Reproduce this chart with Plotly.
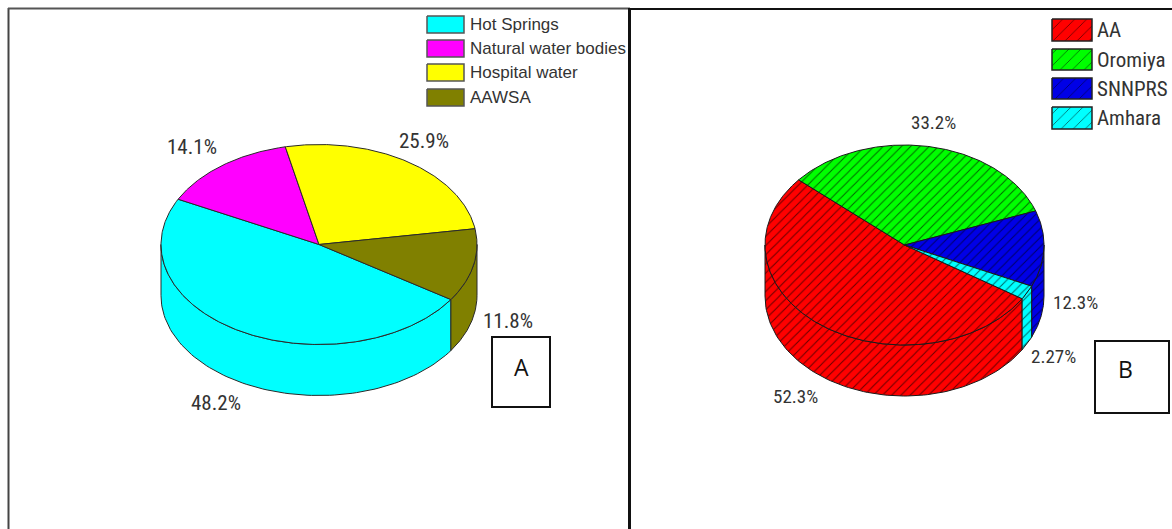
import numpy as np
import plotly.graph_objects as go

# Panel A: sources of water samples
a_labels = ["Hot Springs", "Natural water bodies", "Hospital water", "AAWSA"]
a_values = [48.2, 14.1, 25.9, 11.8]
a_text = ["48.2%", "14.1%", "25.9%", "11.8%"]

# Panel B: regions of origin
b_labels = ["AA", "Oromiya", "SNNPRS", "Amhara"]
b_values = [52.3, 33.2, 12.3, 2.27]
b_text = ["52.3%", "33.2%", "12.3%", "2.27%"]

W, H = 1172, 529
NARROW = "Liberation Sans Narrow, Roboto Condensed, Liberation Sans, sans-serif"
REGULAR = "Liberation Sans, Arial, sans-serif"
INK = "#333333"

fig = go.Figure()


def poly(xs, ys, color, edge, hatch=None, lw=1.0):
    """Add one closed, filled outline in pixel coordinates."""
    kw = {}
    if hatch:
        kw["fillpattern"] = dict(shape="/", bgcolor=color, fgcolor=hatch["color"],
                                 size=hatch["size"], solidity=hatch["solidity"],
                                 fillmode="replace")
    fig.add_trace(go.Scatter(x=list(xs), y=list(ys), mode="lines", fill="toself",
                             fillcolor=color, line=dict(color=edge, width=lw),
                             hoverinfo="skip", showlegend=False, **kw))


def tilted_pie(values, start, cx, cy, rx, ry, depth, colors, edge, hatches=None):
    """Project a pie on to a tilted disc: walls first, then the top face."""
    vals = np.asarray(values, float)
    spans = vals / vals.sum() * 360.0
    ends = start - np.cumsum(spans)
    starts = ends + spans
    hatches = hatches or [None] * len(vals)

    # Walls exist only on the near half of the rim (angles from -180 to 0).
    for k, (a0, a1) in enumerate(zip(starts, ends)):
        for shift in (0, -360, 360):
            hi, lo = min(a0 + shift, 0), max(a1 + shift, -180)
            if hi > lo:
                t = np.radians(np.linspace(hi, lo, 90))
                x = cx + rx * np.cos(t)
                y = cy - ry * np.sin(t)
                poly(np.r_[x, x[::-1], x[0]], np.r_[y, y[::-1] + depth, y[0]],
                     colors[k], edge, hatches[k])

    # Top face wedges
    for k, (a0, a1) in enumerate(zip(starts, ends)):
        t = np.radians(np.linspace(a0, a1, max(int(abs(a0 - a1)), 2) * 2))
        x = cx + rx * np.cos(t)
        y = cy - ry * np.sin(t)
        poly(np.r_[cx, x, cx], np.r_[cy, y, cy], colors[k], edge, hatches[k])


def key(labels, colors, x0, x1, tops, bottoms, tx, font, size, edge, hatches=None):
    """Hand-placed key with a swatch and a caption per entry."""
    hatches = hatches or [None] * len(labels)
    for name, col, top, bot, h in zip(labels, colors, tops, bottoms, hatches):
        poly([x0, x1, x1, x0, x0], [top, top, bot, bot, top], col, edge, h, lw=1.5)
        fig.add_annotation(x=tx, y=(top + bot) / 2, text=name, xanchor="left",
                           yanchor="middle", showarrow=False,
                           font=dict(family=font, size=size, color=INK))


def put_labels(texts, xs, ys, size):
    for s, x, y in zip(texts, xs, ys):
        fig.add_annotation(x=x, y=y, text=s, showarrow=False, xanchor="center",
                           yanchor="middle",
                           font=dict(family=NARROW, size=size, color=INK))


a_colors = ["#00ffff", "#ff00ff", "#ffff00", "#808000"]
tilted_pie(a_values, -33.4, 319, 244.5, 158, 100, 51, a_colors, "#2a2a2a")
key(a_labels, a_colors, 427, 464, [16, 40, 64, 89], [33, 57, 81, 106], 468,
    REGULAR, 17, "#555555")
put_labels(a_text, [216, 192, 424, 508], [403, 147, 141, 321], 21)

b_colors = ["#ff0000", "#00ff00", "#0000e6", "#00ffff"]
line_tints = ["#6a0000", "#006a00", "#00006a", "#006a6a"]
pie_hatch = [dict(color=c, size=6.5, solidity=0.16) for c in line_tints]
key_hatch = [dict(color=c, size=8.5, solidity=0.1) for c in line_tints]
tilted_pie(b_values, -32.5, 904.5, 245, 139.5, 100, 51, b_colors, "#1a1a1a", pie_hatch)
key(b_labels, b_colors, 1052, 1092, [19, 49, 78, 107], [41, 70, 99, 129], 1095,
    NARROW, 21, "#222222", key_hatch)
put_labels(b_text, [795, 933, 1075, 1053], [396, 122, 302, 356], 19)

# Panel frames
frame = [
    dict(x0=8.5, x1=8.5, y0=8, y1=H, color="#444444", width=2),
    dict(x0=8, x1=630, y0=8.5, y1=8.5, color="#555555", width=2),
    dict(x0=630, x1=W, y0=9, y1=9, color="#111111", width=2),
    dict(x0=629.5, x1=629.5, y0=8, y1=H, color="#111111", width=3),
]
for f in frame:
    fig.add_shape(type="line", x0=f["x0"], x1=f["x1"], y0=f["y0"], y1=f["y1"],
                  line=dict(color=f["color"], width=f["width"]), layer="above")

# Panel letters in their boxes
for letter, x0, x1, y0, y1, tx, ty in [("A", 492, 550, 337, 407, 521, 367),
                                       ("B", 1095, 1169, 341, 413, 1125, 369)]:
    fig.add_shape(type="rect", x0=x0, x1=x1, y0=y0, y1=y1, fillcolor="white",
                  line=dict(color="#111111", width=2), layer="above")
    fig.add_annotation(x=tx, y=ty, text=letter, showarrow=False,
                       font=dict(family="Open Sans, sans-serif", size=23, color="#111111"))

fig.update_layout(
    width=W, height=H, margin=dict(l=0, r=0, t=0, b=0),
    paper_bgcolor="white", plot_bgcolor="white", showlegend=False,
    xaxis=dict(range=[0, W], visible=False, fixedrange=True),
    yaxis=dict(range=[H, 0], visible=False, fixedrange=True),
)
fig.write_html("out.html")
